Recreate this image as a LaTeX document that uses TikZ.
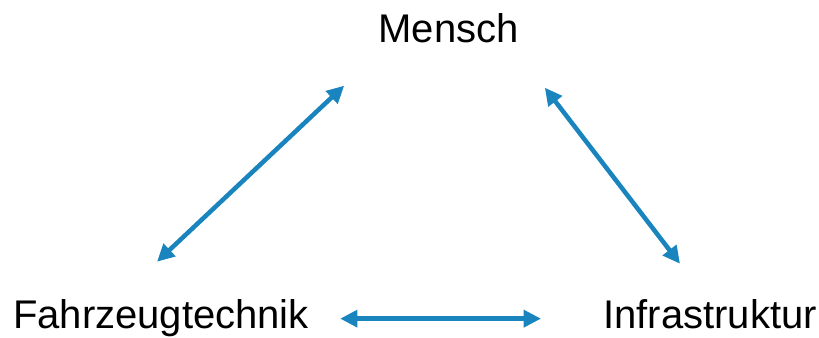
\documentclass[tikz,border=0pt]{standalone}
\usepackage{fontspec}
\setmainfont{Liberation Sans}
\usetikzlibrary{arrows.meta,calc}
\definecolor{linkblue}{RGB}{26,132,190}
\tikzset{
  label text/.style={inner sep=0pt, anchor=base, font=\fontsize{30}{36}\selectfont},
  link/.style={draw=linkblue, line width=3.4pt, {Triangle[length=13pt,width=12.5pt]}-{Triangle[length=13pt,width=12.5pt]}}
}
\begin{document}
\begin{tikzpicture}[x=0.75pt,y=-0.75pt]
  \useasboundingbox (0,0) rectangle (819,338);
  % the three corners
  \node[label text] (mensch) at (448.5,43) {Mensch};
  \node[label text] (fahr) at (161,329) {Fahrzeugtechnik};
  \node[label text] (infra) at (710,329) {Infrastruktur};
  % the double arrows between them
  \draw[link] ($(fahr.north)+(-4,-38)$) -- ($(mensch.south west)+(-34,42)$);
  \draw[link] ($(mensch.south east)+(26,44)$) -- ($(infra.north)+(-30,-36)$);
  \draw[link] ($(fahr.east)+(31,0)$) -- ($(infra.west |- fahr.east)+(-62,0)$);
\end{tikzpicture}
\end{document}
